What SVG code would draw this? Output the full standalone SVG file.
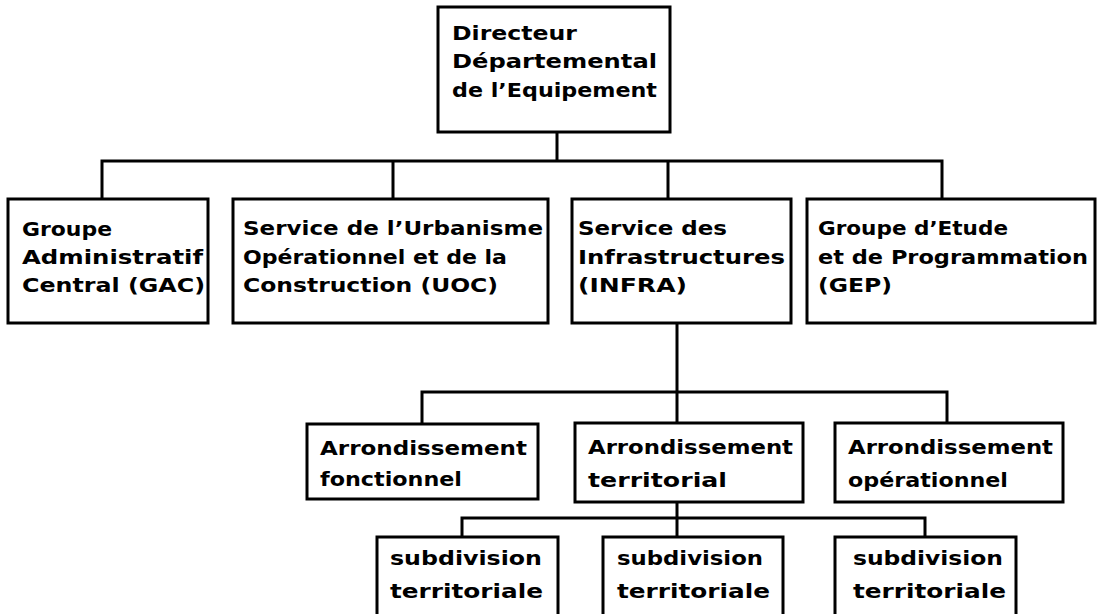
<svg xmlns="http://www.w3.org/2000/svg" width="1098" height="614" viewBox="0 0 1098 614">
<style>
.box{fill:#fff;stroke:#000;stroke-width:3}
.ln{fill:none;stroke:#000;stroke-width:3}
text{font-family:"DejaVu Sans","Liberation Sans",sans-serif;font-weight:bold;font-size:20px;fill:#000}
</style>
<rect width="1098" height="614" fill="#fff"/>
<g id="connectors">
<path class="ln" d="M557 132V161M102 199V161H942V199M393 161V199M668 161V199"/>
<path class="ln" d="M677 322V392M422 423V392H947V423M677 392V423"/>
<path class="ln" d="M677 502V518M462 537V518H925V537M677 518V537"/>
</g>
<g id="n-directeur">
<rect class="box" x="438" y="7" width="232" height="125"/>
<text x="452" y="40" textLength="125" lengthAdjust="spacingAndGlyphs">Directeur</text>
<text x="452" y="68" textLength="205" lengthAdjust="spacingAndGlyphs">Départemental</text>
<text x="452" y="97" textLength="205" lengthAdjust="spacingAndGlyphs">de l’Equipement</text>
</g>
<g id="n-gac">
<rect class="box" x="8" y="199" width="200" height="124"/>
<text x="22" y="236" textLength="90" lengthAdjust="spacingAndGlyphs">Groupe</text>
<text x="22" y="264" textLength="181" lengthAdjust="spacingAndGlyphs">Administratif</text>
<text x="22" y="292" textLength="183" lengthAdjust="spacingAndGlyphs">Central (GAC)</text>
</g>
<g id="n-uoc">
<rect class="box" x="233" y="199" width="315" height="124"/>
<text x="243" y="235" textLength="300" lengthAdjust="spacingAndGlyphs">Service de l’Urbanisme</text>
<text x="243" y="264" textLength="264" lengthAdjust="spacingAndGlyphs">Opérationnel et de la</text>
<text x="243" y="292" textLength="255" lengthAdjust="spacingAndGlyphs">Construction (UOC)</text>
</g>
<g id="n-infra">
<rect class="box" x="572" y="199" width="219" height="124"/>
<text x="578" y="235" textLength="149" lengthAdjust="spacingAndGlyphs">Service des</text>
<text x="578" y="264" textLength="207" lengthAdjust="spacingAndGlyphs">Infrastructures</text>
<text x="578" y="292" textLength="109" lengthAdjust="spacingAndGlyphs">(INFRA)</text>
</g>
<g id="n-gep">
<rect class="box" x="807" y="199" width="288" height="124"/>
<text x="818" y="235" textLength="190" lengthAdjust="spacingAndGlyphs">Groupe d’Etude</text>
<text x="818" y="264" textLength="270" lengthAdjust="spacingAndGlyphs">et de Programmation</text>
<text x="818" y="292" textLength="74" lengthAdjust="spacingAndGlyphs">(GEP)</text>
</g>
<g id="n-arr-fonc">
<rect class="box" x="307" y="424" width="231" height="75"/>
<text x="320" y="455" textLength="207" lengthAdjust="spacingAndGlyphs">Arrondissement</text>
<text x="320" y="486" textLength="142" lengthAdjust="spacingAndGlyphs">fonctionnel</text>
</g>
<g id="n-arr-terr">
<rect class="box" x="575" y="423" width="228" height="79"/>
<text x="588" y="454" textLength="205" lengthAdjust="spacingAndGlyphs">Arrondissement</text>
<text x="588" y="487" textLength="139" lengthAdjust="spacingAndGlyphs">territorial</text>
</g>
<g id="n-arr-oper">
<rect class="box" x="835" y="423" width="228" height="79"/>
<text x="848" y="454" textLength="205" lengthAdjust="spacingAndGlyphs">Arrondissement</text>
<text x="848" y="487" textLength="160" lengthAdjust="spacingAndGlyphs">opérationnel</text>
</g>
<g id="n-sub1">
<rect class="box" x="377" y="537" width="181" height="80"/>
<text x="390" y="565" textLength="152" lengthAdjust="spacingAndGlyphs">subdivision</text>
<text x="390" y="598" textLength="153" lengthAdjust="spacingAndGlyphs">territoriale</text>
</g>
<g id="n-sub2">
<rect class="box" x="603" y="537" width="180" height="80"/>
<text x="617" y="565" textLength="146" lengthAdjust="spacingAndGlyphs">subdivision</text>
<text x="617" y="598" textLength="153" lengthAdjust="spacingAndGlyphs">territoriale</text>
</g>
<g id="n-sub3">
<rect class="box" x="835" y="537" width="181" height="80"/>
<text x="853" y="565" textLength="150" lengthAdjust="spacingAndGlyphs">subdivision</text>
<text x="853" y="598" textLength="153" lengthAdjust="spacingAndGlyphs">territoriale</text>
</g>
</svg>
